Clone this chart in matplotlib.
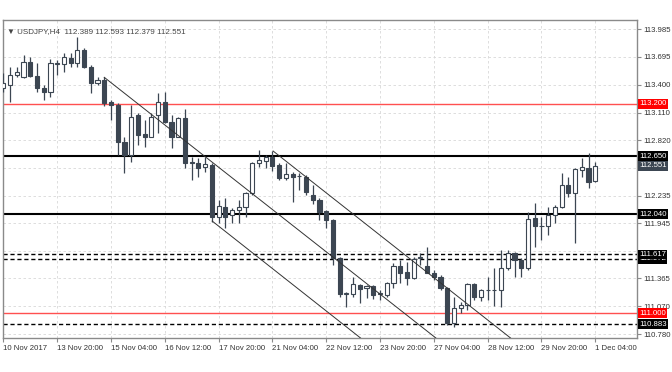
import matplotlib
matplotlib.use("Agg")
import matplotlib.pyplot as plt
import numpy as np

plt.rcParams['font.family'] = ['Liberation Sans', 'DejaVu Sans']

# H4 bars, 10 Nov 2017 12:00 .. 1 Dec 2017 04:00
opens = [113.367, 113.399, 113.504, 113.483, 113.641, 113.494, 113.367, 113.325, 113.620, 113.620,
         113.683, 113.630, 113.767, 113.588, 113.420, 113.451, 113.220, 113.189, 112.799, 112.663,
         113.083, 112.883, 112.852, 113.083, 113.220, 113.010, 112.852, 113.052, 112.589, 112.578,
         112.536, 112.557, 112.010, 112.116, 112.031, 112.084, 112.116, 112.263, 112.578, 112.599,
         112.642, 112.557, 112.421, 112.463, 112.442, 112.431, 112.242, 112.189, 112.074, 111.979,
         111.579, 111.200, 111.200, 111.295, 111.264, 111.285, 111.211, 111.190, 111.316, 111.495,
         111.432, 111.369, 111.579, 111.495, 111.421, 111.379, 111.264, 110.895, 111.053, 111.085,
         111.306, 111.169, 111.242, 111.242, 111.242, 111.474, 111.632, 111.558, 111.474, 112.000,
         111.916, 111.916, 112.031, 112.116, 112.347, 112.263, 112.505, 112.526, 112.389]
highs = [113.525, 113.588, 113.588, 113.714, 113.693, 113.630, 113.399, 113.672, 113.662, 113.735,
         113.735, 113.904, 113.788, 113.609, 113.483, 113.483, 113.241, 113.210, 112.852, 113.189,
         113.104, 113.031, 113.104, 113.315, 113.325, 113.083, 113.062, 113.146, 112.642, 112.631,
         112.642, 112.578, 112.189, 112.210, 112.105, 112.189, 112.273, 112.589, 112.715, 112.663,
         112.705, 112.578, 112.578, 112.484, 112.473, 112.452, 112.347, 112.210, 112.084, 111.989,
         111.590, 111.221, 111.379, 111.306, 111.295, 111.295, 111.242, 111.327, 111.526, 111.558,
         111.537, 111.590, 111.632, 111.695, 111.453, 111.400, 111.274, 111.169, 111.116, 111.316,
         111.316, 111.253, 111.379, 111.474, 111.663, 111.663, 111.640, 111.579, 112.063, 112.158,
         112.010, 112.116, 112.137, 112.473, 112.431, 112.526, 112.631, 112.684, 112.593]
lows = [113.325, 113.220, 113.483, 113.473, 113.483, 113.325, 113.241, 113.273, 113.504, 113.536,
        113.588, 113.588, 113.578, 113.315, 113.399, 113.178, 113.031, 112.663, 112.473, 112.589,
        112.768, 112.747, 112.852, 112.894, 112.999, 112.736, 112.852, 112.526, 112.400, 112.431,
        112.484, 111.958, 111.947, 111.895, 111.947, 111.947, 112.010, 112.242, 112.536, 112.526,
        112.494, 112.400, 112.400, 112.168, 112.294, 112.242, 112.147, 111.979, 111.895, 111.505,
        111.169, 111.064, 111.169, 111.106, 111.158, 111.148, 111.137, 111.169, 111.264, 111.316,
        111.295, 111.358, 111.505, 111.421, 111.348, 111.242, 110.874, 110.853, 111.001, 111.032,
        111.137, 111.127, 111.137, 111.074, 111.064, 111.453, 111.379, 111.379, 111.453, 111.695,
        111.768, 111.821, 111.947, 112.105, 112.221, 111.737, 112.431, 112.315, 112.379]
closes = [113.420, 113.504, 113.536, 113.641, 113.494, 113.367, 113.325, 113.630, 113.630, 113.693,
          113.630, 113.767, 113.588, 113.420, 113.451, 113.210, 113.189, 112.799, 112.663, 113.062,
          112.873, 112.852, 113.062, 113.220, 113.010, 112.852, 113.052, 112.578, 112.578, 112.526,
          112.568, 112.010, 112.126, 112.010, 112.084, 112.116, 112.263, 112.578, 112.610, 112.642,
          112.547, 112.421, 112.463, 112.431, 112.442, 112.273, 112.189, 112.063, 111.979, 111.579,
          111.200, 111.211, 111.306, 111.253, 111.285, 111.190, 111.200, 111.316, 111.495, 111.421,
          111.369, 111.569, 111.585, 111.421, 111.379, 111.264, 110.895, 111.053, 111.085, 111.306,
          111.169, 111.242, 111.248, 111.248, 111.474, 111.632, 111.558, 111.474, 111.989, 111.916,
          111.920, 112.031, 112.116, 112.347, 112.263, 112.515, 112.536, 112.379, 112.551]

date_ticks = [0, 8, 16, 24, 32, 40, 48, 56, 64, 72, 80, 88]
date_labels = ['10 Nov 2017', '13 Nov 20:00', '15 Nov 04:00', '16 Nov 12:00', '17 Nov 20:00',
               '21 Nov 04:00', '22 Nov 12:00', '23 Nov 20:00', '27 Nov 04:00', '28 Nov 12:00',
               '29 Nov 20:00', '1 Dec 04:00']
price_ticks = [113.985, 113.695, 113.400, 113.110, 112.820, 112.530, 112.235, 111.945,
               111.655, 111.365, 111.070, 110.780]
# tick labels that sit under a price box are hidden, as on the terminal
price_labels = ['113.985', '113.695', '113.400', '113.110', '112.820', '', '112.235', '111.945',
                '', '111.365', '111.070', '110.780']

# horizontal levels: (price, colour, width, style)
levels = [(113.200, '#ff5050', 1.0, '-'), (112.650, 'black', 1.5, '-'),
          (112.040, 'black', 1.5, '-'), (111.617, 'black', 1.0, (0, (3, 2))),
          (111.572, 'black', 1.0, (0, (3, 2))), (111.000, '#ff5050', 1.0, '-'),
          (110.883, 'black', 1.0, (0, (3, 2)))]
# price boxes on the right scale: (price, label, background)
boxes = [(113.200, '113.200', '#ff0000'), (112.650, '112.650', 'black'),
         (112.551, '112.551', '#3c4652'), (112.040, '112.040', 'black'),
         (111.572, '111.572', 'black'), (111.617, '111.617', 'black'),
         (111.000, '111.000', '#ff0000'), (110.883, '110.883', 'black')]
# descending channel lines, (bar, price) start and end
channel = [((15.0, 113.480), (64.3, 110.738)),
           ((31.05, 111.968), (53.1, 110.738)),
           ((40.1, 112.705), (75.4, 110.738))]

W, H = 672, 372
fig = plt.figure(figsize=(W / 100, H / 100), dpi=100)
fig.patch.set_facecolor('white')
ax = fig.add_axes([3 / W, (H - 338) / H, (637 - 3) / W, (338 - 20) / H])
ax.set_xlim(-0.05, 94.2)
ax.set_ylim(110.738, 114.083)

dark = '#3c4652'
x = np.arange(len(opens))
o = np.array(opens); c = np.array(closes)
bull = c >= o
ax.vlines(x, lows, highs, color=dark, linewidth=0.9, zorder=3)
body_lo = np.minimum(o, c)
body_h = np.maximum(np.abs(c - o), 0.004)
ax.bar(x[bull], body_h[bull], bottom=body_lo[bull], width=0.62,
       facecolor='white', edgecolor=dark, linewidth=0.8, zorder=4)
ax.bar(x[~bull], body_h[~bull], bottom=body_lo[~bull], width=0.62,
       facecolor=dark, edgecolor=dark, linewidth=0.8, zorder=4)

for price, col, lw, ls in levels:
    ax.axhline(price, color=col, linewidth=lw, linestyle=ls, zorder=2)

for (x0, y0), (x1, y1) in channel:
    ax.plot([x0, x1], [y0, y1], color='#333333', linewidth=0.7, zorder=5)

# grid
for t in date_ticks:
    ax.axvline(t, color='#d8d8d8', linewidth=0.6, linestyle=(0, (3, 3)), zorder=1)
for t in price_ticks:
    ax.axhline(t, color='#d8d8d8', linewidth=0.6, linestyle=(0, (3, 3)), zorder=1)

for s in ax.spines.values():
    s.set_color('#8a8a8a')
    s.set_linewidth(1.0)

ax.yaxis.tick_right()
ax.set_yticks(price_ticks)
ax.set_yticklabels(price_labels, fontsize=5.6, color='#333333')
ax.set_xticks(date_ticks)
ax.set_xticklabels(date_labels, fontsize=5.6, color='#333333', ha='left')
ax.tick_params(axis='both', length=3, width=0.8, color='#8a8a8a', pad=1.5)
ax.tick_params(axis='x', pad=2)

for price, lab, bg in boxes:
    ax.text(1.003, price, lab, transform=ax.get_yaxis_transform(), fontsize=5.6,
            color='white', va='center', ha='left', clip_on=False, zorder=10,
            bbox=dict(boxstyle='square,pad=0.18', facecolor=bg, edgecolor='none'))

ax.text(0.006, 0.975, '\u25bc USDJPY,H4  112.389 112.593 112.379 112.551',
        transform=ax.transAxes, fontsize=5.8, color='#444444', va='top', ha='left',
        zorder=11)

fig.savefig('out.png', dpi=100)
